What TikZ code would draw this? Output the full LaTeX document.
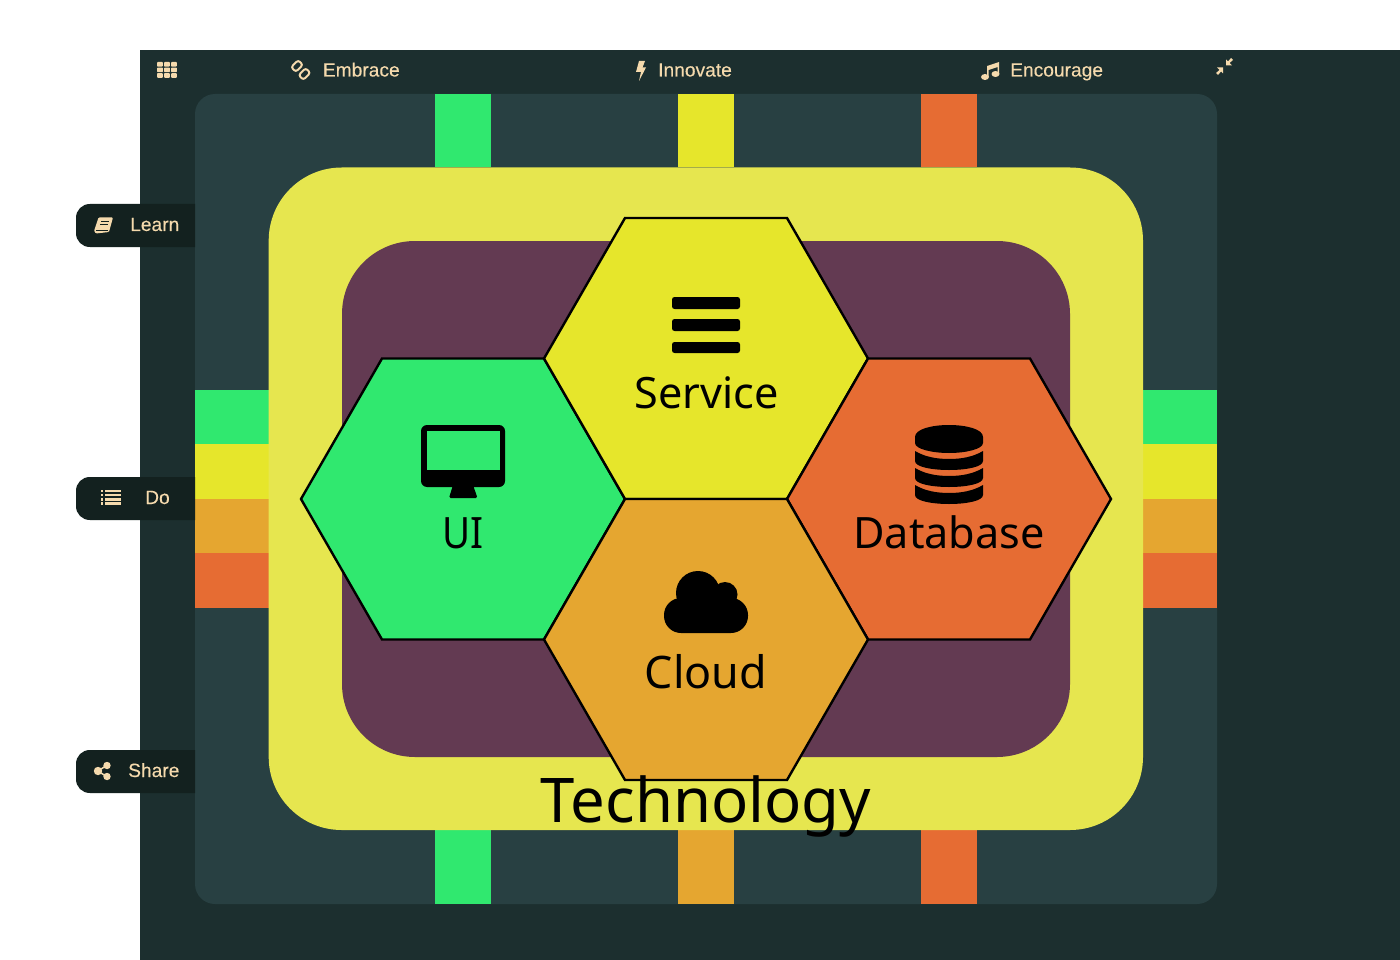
\documentclass[tikz,border=0pt]{standalone}
\usepackage{fontspec}
\setmainfont{Noto Sans}
\newfontfamily\uifont[FakeBold=0.2]{Liberation Sans}
\definecolor{bgdark}{HTML}{1C2F2F}
\definecolor{panel}{HTML}{284042}
\definecolor{outery}{HTML}{E6E64F}
\definecolor{innerp}{HTML}{633A52}
\definecolor{pill}{HTML}{13211F}
\definecolor{cgreen}{HTML}{30E86F}
\definecolor{cyellow}{HTML}{E6E62B}
\definecolor{corange}{HTML}{E5A630}
\definecolor{cred}{HTML}{E66C33}
\definecolor{wheatc}{HTML}{F5DAAD}
\tikzset{
  hexcell/.style={draw=black,line width=2.4pt,line join=miter},
  uilabel/.style={anchor=base west,inner sep=0pt,text=wheatc,font=\uifont\fontsize{19.2}{20}\selectfont},
  hexlabel/.style={anchor=base,inner sep=0pt,text=black,font=\fontsize{43.2}{46}\selectfont},
  iconline/.style={draw=wheatc,line width=2pt,fill=none},
}
\newcommand{\hexat}[3]{%
  \fill[#3] (#1-162,#2) -- (#1-81,#2-140.5) -- (#1+81,#2-140.5) -- (#1+162,#2) -- (#1+81,#2+140.5) -- (#1-81,#2+140.5) -- cycle;
  \draw[hexcell] (#1-162,#2) -- (#1-81,#2-140.5) -- (#1+81,#2-140.5) -- (#1+162,#2) -- (#1+81,#2+140.5) -- (#1-81,#2+140.5) -- cycle;}
\newcommand{\pillat}[1]{%
  \fill[pill] (195,#1) -- (90,#1) .. controls (82,#1) and (76,#1+6) .. (76,#1+14) -- (76,#1+29)
    .. controls (76,#1+37) and (82,#1+43) .. (90,#1+43) -- (195,#1+43) -- cycle;}
\begin{document}
\begin{tikzpicture}[x=1pt,y=-1pt]
\useasboundingbox (0,0) rectangle (1400,960);
\fill[white] (0,0) rectangle (1400,960);
\fill[bgdark] (140,50) rectangle (1400,960);
\fill[panel,rounded corners=20pt] (195,94) rectangle (1217,904);
% stubs top
\fill[cgreen] (435,94) rectangle (490.5,167.5);
\fill[cyellow] (678,94) rectangle (733.5,167.5);
\fill[cred] (921,94) rectangle (976.5,167.5);
% stubs bottom
\fill[cgreen] (435,830) rectangle (490.5,904);
\fill[corange] (678,830) rectangle (733.5,904);
\fill[cred] (921,830) rectangle (976.5,904);
% stubs sides
\foreach \xa/\xb in {195/269,1143/1217}{
  \fill[cgreen] (\xa,390) rectangle (\xb,444);
  \fill[cyellow] (\xa,444) rectangle (\xb,499);
  \fill[corange] (\xa,499) rectangle (\xb,553);
  \fill[cred] (\xa,553) rectangle (\xb,608);
}
\fill[outery,rounded corners=73pt] (268.7,167.5) rectangle (1143,830);
\fill[innerp,rounded corners=73pt] (342,241) rectangle (1070,757);
% hexagons
\hexat{463}{499}{cgreen}
\hexat{706}{358.5}{cyellow}
\hexat{949}{499}{cred}
\hexat{706}{639.5}{corange}
% service icon
\foreach \ya/\yb in {297/309,319/331,342/353}
  \fill[black,rounded corners=2.5pt] (672,\ya) rectangle (740,\yb);
% monitor icon
\fill[black,rounded corners=6pt] (421,425) rectangle (505,487);
\fill[cgreen] (427,431) rectangle (499.5,470);
\fill[black,rounded corners=1.5pt] (453,485) -- (473,485) -- (477.5,498) -- (449,498) -- cycle;
% database icon
\fill[black] (915,437) .. controls (915,429) and (932,425) .. (949,425) .. controls (966,425) and (983,429) .. (983,437)
  -- (983,443) .. controls (983,449) and (966,453) .. (949,453) .. controls (932,453) and (915,449) .. (915,443) -- cycle;
\foreach \dy in {0,17,34}{
  \fill[black] (915,451+\dy) .. controls (925,457+\dy) and (937,459+\dy) .. (949,459+\dy)
    .. controls (961,459+\dy) and (973,457+\dy) .. (983,451+\dy)
    -- (983,461+\dy) .. controls (983,467+\dy) and (966,470+\dy) .. (949,470+\dy)
    .. controls (932,470+\dy) and (915,467+\dy) .. (915,461+\dy) -- cycle;
}
% cloud icon
\fill[black] (698,593) circle (22);
\fill[black] (725,594.5) circle (12.5);
\fill[black,rounded corners=17pt] (664,598) rectangle (748,633);
% hex labels
\node[hexlabel] (service) at (706.5,408) {Service};
\node[hexlabel] (uitext) at (463,548) {\scalebox{0.89}[1]{UI}};
\node[hexlabel] (database) at (949,548) {Database};
\node[hexlabel,font=\fontsize{44.8}{48}\selectfont] (cloud) at (706,688.5) {Cloud};
\node[hexlabel,font=\fontsize{61.6}{64}\selectfont] (technology) at (706,822.5) {Technology};
% top bar
\foreach \i in {0,1,2}\foreach \j in {0,1,2}
  \fill[wheatc,rounded corners=0.8pt] (157+\i*7,62+\j*5.6) rectangle ++(5.9,4.6);
\begin{scope}[shift={(297,66)},rotate=45]
  \draw[iconline,rounded corners=2.5pt] (-5,-3.3) rectangle (5,3.3);
\end{scope}
\begin{scope}[shift={(304.5,74)},rotate=45]
  \draw[iconline,rounded corners=2.5pt] (-5,-3.3) rectangle (5,3.3);
\end{scope}
\node[uilabel] (embrace) at (322.7,76.5) {Embrace};
\fill[wheatc] (639,61) -- (645,61) -- (642.5,67.5) -- (646,67.5) -- (639,81) -- (641,72) -- (636,72) -- cycle;
\node[uilabel] (innovate) at (658,76.5) {Innovate};
\fill[wheatc] (985,77) ellipse (4 and 3);
\fill[wheatc] (995.5,74) ellipse (4 and 3);
\fill[wheatc] (987,77) -- (987,66) -- (999,62) -- (999,74) -- (997.5,74) -- (997.5,67) -- (988.5,70) -- (988.5,77) -- cycle;
\node[uilabel] (encourage) at (1010,76.5) {Encourage};
% compress icon
\fill[wheatc] (1226,65.5) -- (1226,59.5) -- (1228,61.5) -- (1231,58) -- (1233,60) -- (1229.5,63) -- (1232,65.5) -- cycle;
\fill[wheatc] (1223,67.5) -- (1223,73.5) -- (1221,71.5) -- (1218,75) -- (1216,73) -- (1219.5,70) -- (1217,67.5) -- cycle;
% side pills
\pillat{204}
\pillat{477}
\pillat{750}
% book
\fill[wheatc,rounded corners=1pt] (98.5,217.5) -- (113,217.5) -- (109,232) -- (96,233.5) -- (94,231) -- cycle;
\draw[pill,line width=0.9pt] (101,221.5) -- (108.5,221.5) (100,224.5) -- (107.5,224.5) (96,230.5) -- (108,230.5);
\node[uilabel] (learn) at (130,231) {Learn};
% list
\foreach \y in {489.5,493.7,497.9,502.1}{
  \fill[wheatc] (100.5,\y) rectangle ++(2.7,2.6);
  \fill[wheatc] (105,\y) rectangle (121,\y+2.6);
}
\node[uilabel] (do) at (145,504) {Do};
% share
\draw[wheatc,line width=1.5pt] (106.5,765.5) -- (98,771) -- (106.5,776.5);
\fill[wheatc] (98,771) circle (4.2);
\fill[wheatc] (107,765.5) circle (3.7);
\fill[wheatc] (107,776.5) circle (3.7);
\node[uilabel] (share) at (128,777) {Share};
\end{tikzpicture}
\end{document}
